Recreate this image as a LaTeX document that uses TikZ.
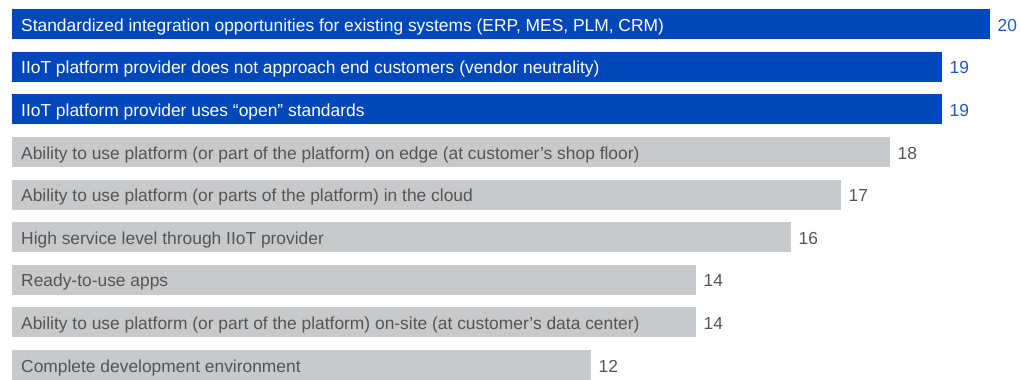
\documentclass[tikz,border=0pt]{standalone}
\usepackage{fontspec}
\setmainfont{Liberation Sans}
\definecolor{barblue}{RGB}{0,72,186}
\definecolor{bargrey}{RGB}{200,201,203}
\definecolor{txtgrey}{RGB}{85,85,85}
\definecolor{numblue}{RGB}{30,90,200}
\begin{document}
\begin{tikzpicture}[x=1pt,y=-1pt,
  bar/.style={draw=none,inner sep=0pt,anchor=north west,minimum height=30pt},
  bluebar/.style={bar,fill=barblue},
  greybar/.style={bar,fill=bargrey},
  lbl/.style={inner sep=0pt,anchor=base west,font=\fontsize{17.4}{20}\selectfont},
  wlbl/.style={lbl,text=white},
  glbl/.style={lbl,text=txtgrey},
  bnum/.style={lbl,text=numblue},
  gnum/.style={lbl,text=txtgrey}]
\useasboundingbox (0,0) rectangle (1021,380);
% rows: top edge, bar length, colour style, text style, number style, label, value
\foreach \i/\len/\bs/\ts/\ns/\txt/\val in {
  0/978/bluebar/wlbl/bnum/{Standardized integration opportunities for existing systems (ERP, MES, PLM, CRM)}/20,
  1/930/bluebar/wlbl/bnum/{IIoT platform provider does not approach end customers (vendor neutrality)}/19,
  2/930/bluebar/wlbl/bnum/{IIoT platform provider uses “open” standards}/19,
  3/878/greybar/glbl/gnum/{Ability to use platform (or part of the platform) on edge (at customer’s shop floor)}/18,
  4/829/greybar/glbl/gnum/{Ability to use platform (or parts of the platform) in the cloud}/17,
  5/779/greybar/glbl/gnum/{High service level through IIoT provider}/16,
  6/684/greybar/glbl/gnum/{Ready-to-use apps}/14,
  7/684/greybar/glbl/gnum/{Ability to use platform (or part of the platform) on-site (at customer’s data center)}/14,
  8/579/greybar/glbl/gnum/{Complete development environment}/12}
{
  \pgfmathsetmacro{\top}{9+42.6*\i}
  \node[\bs,minimum width=\len pt] (bar\i) at (12,\top) {};
  \node[\ts] (txt\i) at (21,\top+22.3) {\txt};
  \node[\ns] (num\i) at ([xshift=7pt]bar\i.east |- txt\i.base) {\val};
}
\end{tikzpicture}
\end{document}
